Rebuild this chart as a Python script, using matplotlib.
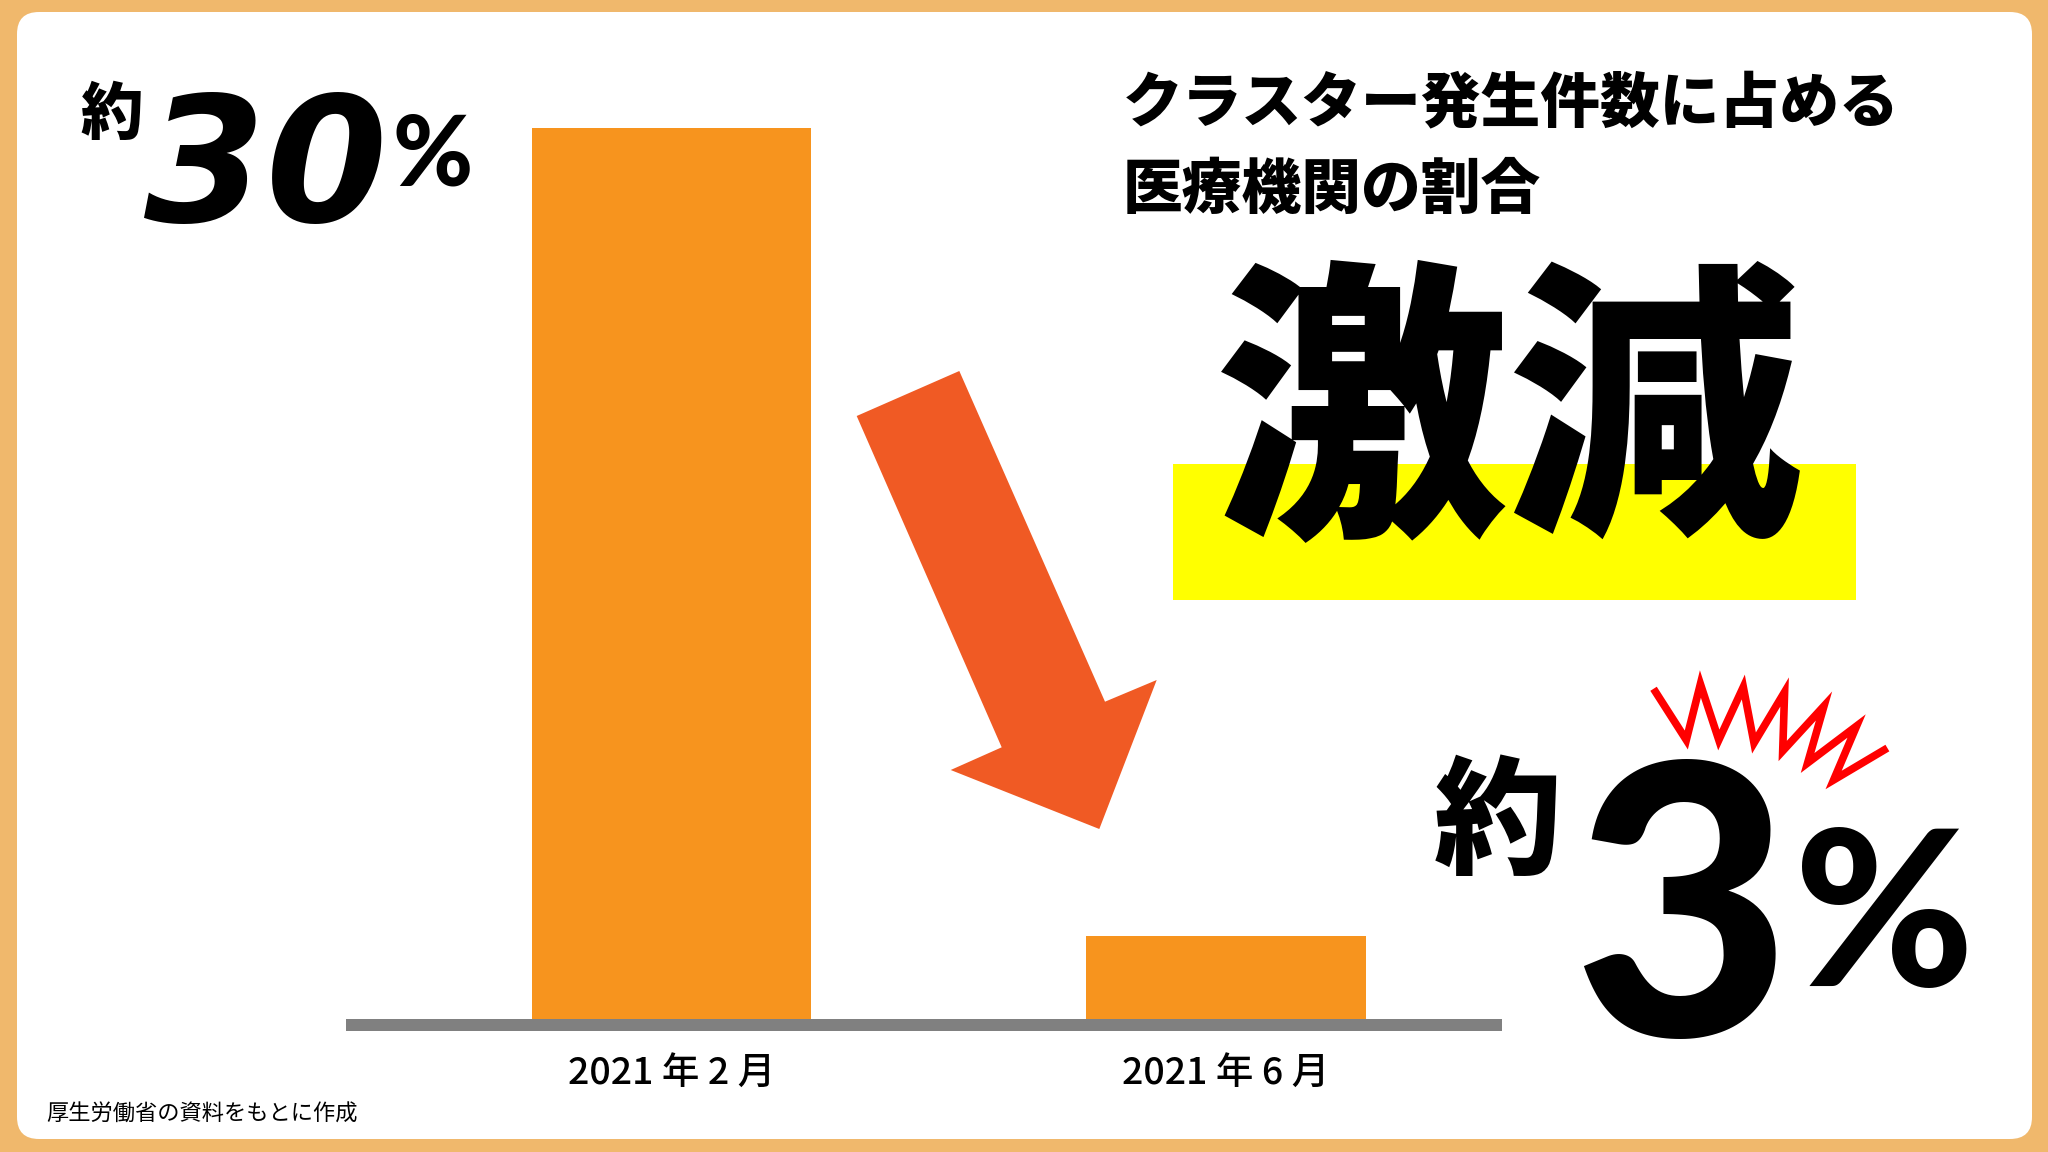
import matplotlib
matplotlib.use('Agg')
import matplotlib.pyplot as plt
from matplotlib.patches import FancyBboxPatch, Rectangle, Polygon

# datos
meses = ['2021 年 2 月', '2021 年 6 月']
porcentajes = [30, 2.8]
titulo = ['クラスター発生件数に占める', '医療機関の割合']
fuente = '厚生労働省の資料をもとに作成'

naranja = '#F7941E'
borde = '#F0B86C'
rojo_flecha = '#F05A24'
gris = '#808080'

jp = ['Noto Sans CJK JP', 'DejaVu Sans']
num = ['Lato', 'DejaVu Sans']

fig = plt.figure(figsize=(20.48, 11.52), dpi=100, facecolor=borde)

# fondo en pixeles (y hacia abajo)
fondo = fig.add_axes([0, 0, 1, 1])
fondo.set_xlim(0, 2048)
fondo.set_ylim(1152, 0)
fondo.axis('off')
fondo.add_patch(FancyBboxPatch((17, 12), 2015, 1127,
                               boxstyle='round,pad=0,rounding_size=22',
                               fc='white', ec='none'))
fondo.add_patch(Rectangle((346, 1018.8), 1156, 11.7, fc=gris, ec='none'))
fondo.add_patch(Rectangle((1173, 464), 683, 136, fc='#FFFF00', ec='none'))

# flecha
fondo.add_patch(Polygon([(856.7, 416), (959.3, 371), (1105, 701.7), (1156.7, 680),
                         (1099.3, 829), (950.7, 770), (1001.7, 747.3)],
                        closed=True, fc=rojo_flecha, ec='none'))

# zigzag rojo
zx = [1655.6, 1686.3, 1700.4, 1718.8, 1743.3, 1754.0, 1784.6, 1782.7,
      1824.0, 1807.6, 1856.6, 1833.6, 1884.1]
zy = [692, 740, 684, 740, 687, 743, 692, 751, 706, 763, 726, 780, 750]
fondo.plot(zx, zy, color='#FF0000', lw=5.5, solid_joinstyle='miter')

# textos
fondo.text(1123, 103, titulo[0], fontsize=43, family=jp, weight='black',
           ha='left', va='center')
fondo.text(1123, 190, titulo[1], fontsize=43, family=jp, weight='black',
           ha='left', va='center')
fondo.text(1508, 425, '激減', fontsize=212, family=jp, weight='black',
           ha='center', va='center')

fondo.text(112, 115, '約', fontsize=45, family=jp, weight='black',
           ha='center', va='center')
fondo.text(144, 222, '30', fontsize=126, family='DejaVu Sans', weight='bold',
           style='oblique', ha='left', va='baseline')
fondo.text(392, 186, '%', fontsize=70, family=num, weight='black',
           ha='left', va='baseline')

fondo.text(1498, 826, '約', fontsize=92, family=jp, weight='black',
           ha='center', va='center')
fondo.text(1682, 1036, '3', fontsize=272, family=num, weight='black',
           ha='center', va='baseline')
fondo.text(1884, 986, '%', fontsize=157, family=num, weight='black',
           ha='center', va='baseline')

fondo.text(46, 1114, fuente, fontsize=16, family=jp, ha='left', va='center')

# barras
ax = fig.add_axes([346 / 2048, (1152 - 1018.8) / 1152,
                   1156 / 2048, (1018.8 - 128) / 1152])
ax.patch.set_alpha(0)
ax.bar(range(len(meses)), porcentajes, width=0.504, color=naranja)
ax.set_xlim(-0.587, 1.498)
ax.set_ylim(0, 30)
ax.set_xticks(range(len(meses)))
ax.set_xticklabels(meses, fontsize=27, family=jp, weight='medium')
ax.tick_params(axis='x', length=0, pad=25)
ax.set_yticks([])
for s in ax.spines.values():
    s.set_visible(False)

fig.savefig('out.png', dpi=100, facecolor=borde)
